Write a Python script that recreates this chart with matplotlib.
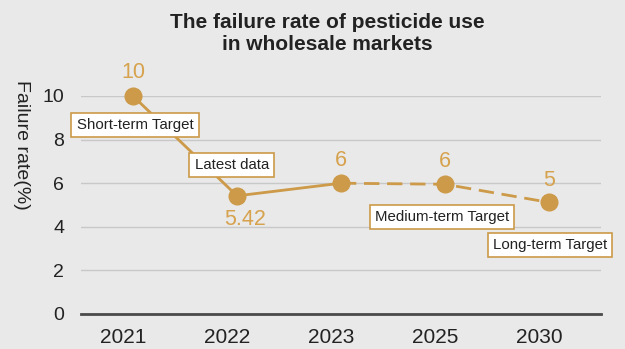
import matplotlib.pyplot as plt
from matplotlib.transforms import ScaledTranslation

plt.rcParams['font.family'] = ['Liberation Sans', 'DejaVu Sans']

# data
years = ["2021", "2022", "2023", "2025", "2030"]
rates = [10, 5.42, 6, 5.95, 5.12]
value_labels = ["10", "5.42", "6", "6", "5"]
notes = ["Short-term Target", "Latest data", "Medium-term Target", "Long-term Target"]

# style
bg = "#e9e9e9"
gold = "#cc9a48"
label_gold = "#d6a24e"

fig = plt.figure(figsize=[6.25, 3.49], dpi=100)
fig.patch.set_facecolor(bg)
ax = fig.add_axes([81 / 625, 1 - 314 / 349, 520 / 625, 218 / 349])
ax.set_facecolor(bg)

x = list(range(len(years)))

# solid part (actual data), dashed part (targets)
ax.plot(x[:3], rates[:3], '-', color=gold, lw=2, zorder=3)
ax.plot(x[2:], rates[2:], '--', color=gold, lw=2, dashes=(5.5, 2.8), zorder=3)
ax.plot(x, rates, 'o', color=gold, markersize=12, zorder=4, clip_on=False)

# value labels above / below the points
offsets = [23, -24, 23, 23, 22]
for xi, yi, txt, off in zip(x, rates, value_labels, offsets):
    dx = 8 if off < 0 else 0
    ax.annotate(txt, (xi, yi), xytext=(dx, off), textcoords='offset pixels',
                ha='center', va='center', color=label_gold, fontsize=15.5)

# callout boxes
note_pos = [(0.02, 8.67), (0.95, 6.83), (2.97, 4.45), (4.01, 3.17)]
for txt, (nx, ny) in zip(notes, note_pos):
    ax.text(nx, ny, txt, ha='center', va='center', fontsize=10.8, color='#222222',
            zorder=5,
            bbox=dict(boxstyle='square,pad=0.35', facecolor='white', edgecolor=gold, lw=1.2))

ax.set_xlim(-0.5, len(years) - 0.5)
ax.set_ylim(0, 10)
ax.set_yticks([0, 2, 4, 6, 8, 10])
ax.set_xticks(x)
ax.set_xticklabels(years)
ax.grid(axis='y', color='#c8c8c8', lw=1)
ax.set_axisbelow(True)

for s in ['top', 'right', 'left']:
    ax.spines[s].set_visible(False)
ax.spines['bottom'].set_color('#4a4a4a')
ax.spines['bottom'].set_linewidth(2)
ax.tick_params(axis='both', length=0, colors='#222222')
ax.tick_params(axis='x', pad=10, labelsize=15)
ax.tick_params(axis='y', pad=12, labelsize=14)

# the category labels sit a little left of the points
shift = ScaledTranslation(-10 / 100, 0, fig.dpi_scale_trans)
for lbl in ax.get_xticklabels():
    lbl.set_transform(lbl.get_transform() + shift)

fig.text(21 / 625, 1 - 145 / 349, "Failure rate(%)", rotation=-90, ha='center', va='center',
         fontsize=14, color='#222222')
fig.text(327 / 625, 1 - 34 / 349, "The failure rate of pesticide use\nin wholesale markets",
         ha='center', va='center', fontsize=15, fontweight='bold', color='#222222',
         linespacing=1.2)

fig.savefig("out.png", dpi=100, facecolor=bg)
